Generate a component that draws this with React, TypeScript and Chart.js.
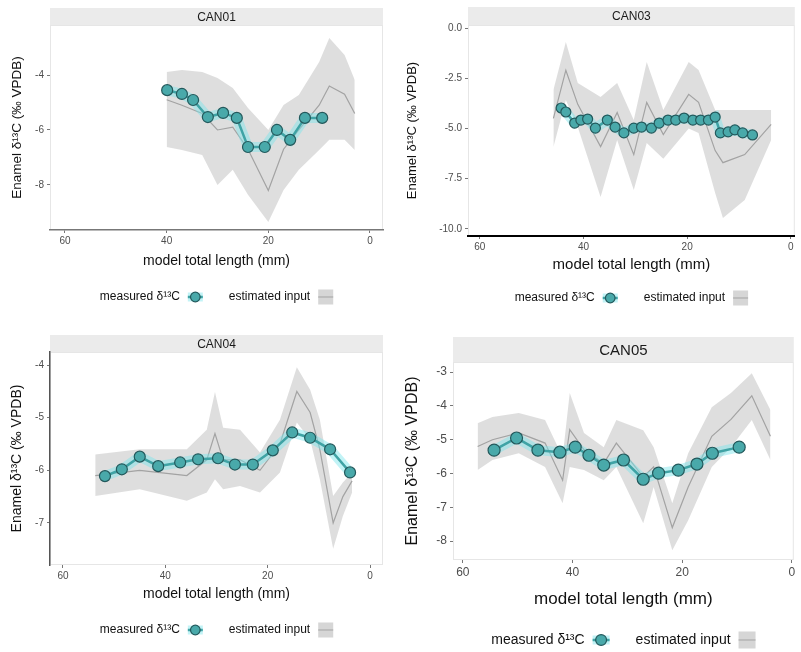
import React, { useEffect, useRef } from 'react';
import { Chart, registerables } from 'chart.js';

Chart.register(...registerables);

const FONT = '"Liberation Sans", Arial, Helvetica, sans-serif';
const Y_TITLE = 'Enamel δ¹³C (‰ VPDB)';
const X_TITLE = 'model total length (mm)';
const LEGEND_MEASURED = 'measured δ¹³C';
const LEGEND_ESTIMATED = 'estimated input';

const xTicks = [60, 40, 20, 0];

// ---- CAN01 ----
const can01Name = 'CAN01';
const can01YTicks = [-4, -6, -8];
const can01MeasuredX = [39.9, 37.0, 34.8, 31.9, 28.9, 26.2, 24.0, 20.7, 18.3, 15.7, 12.8, 9.4];
const can01MeasuredY = [-4.55, -4.69, -4.91, -5.53, -5.38, -5.56, -6.62, -6.62, -6.0, -6.36, -5.56, -5.56];
const can01EstX = [40, 37, 33, 30, 27, 24, 20, 17, 14, 10, 8, 5, 3];
const can01EstUpper = [-3.89, -3.82, -3.89, -4.11, -4.47, -5.2, -6.0, -5.09, -4.73, -3.53, -2.65, -3.27, -4.18];
const can01EstLower = [-6.62, -6.73, -6.91, -8.0, -7.45, -8.36, -9.35, -8.18, -7.45, -6.73, -6.36, -6.36, -6.73];
const can01EstMid = [-4.9, -5.1, -5.4, -6.0, -5.9, -6.7, -8.2, -6.7, -6.0, -5.1, -4.4, -4.7, -5.4];

// ---- CAN03 ----
const can03Name = 'CAN03';
const can03YTicks = [0, -2.5, -5, -7.5, -10];
const can03MeasuredX = [44.3, 43.4, 41.7, 40.5, 39.2, 37.7, 35.4, 33.9, 32.2, 30.3, 28.8, 26.9, 25.4, 23.7, 22.2, 20.6, 18.9, 17.4, 15.9, 14.6, 13.6, 12.1, 10.8, 9.3, 7.4];
const can03MeasuredY = [-3.98, -4.18, -4.73, -4.58, -4.53, -4.98, -4.58, -4.93, -5.22, -4.98, -4.93, -4.98, -4.73, -4.58, -4.58, -4.48, -4.58, -4.58, -4.58, -4.43, -5.22, -5.17, -5.07, -5.22, -5.32];
const can03EstX = [45.8, 43.4, 41.1, 36.7, 33.5, 30.3, 27.8, 24.6, 19.7, 17.8, 14.6, 13.1, 8.9, 3.8];
const can03EstUpper = [-3.08, -0.7, -2.74, -3.43, -2.74, -4.58, -1.69, -4.08, -1.69, -2.09, -4.08, -4.08, -4.08, -4.08];
const can03EstLower = [-5.92, -3.58, -4.93, -8.41, -5.57, -8.06, -5.72, -6.5, -5.0, -5.22, -8.21, -9.45, -8.56, -5.57];
const can03EstMid = [-4.5, -2.1, -3.8, -5.9, -4.2, -6.3, -3.7, -5.3, -3.3, -3.7, -6.1, -6.7, -6.3, -4.8];

// ---- CAN04 ----
const can04Name = 'CAN04';
const can04YTicks = [-4, -5, -6, -7];
const can04MeasuredX = [51.8, 48.5, 45.0, 41.4, 37.1, 33.6, 29.7, 26.4, 22.9, 19.0, 15.2, 11.7, 7.8, 3.9];
const can04MeasuredY = [-6.11, -5.98, -5.74, -5.92, -5.85, -5.79, -5.77, -5.89, -5.89, -5.62, -5.28, -5.38, -5.6, -6.04];
const can04EstX = [53.7, 45.0, 35.8, 31.9, 30.3, 28.7, 25.4, 21.5, 17.6, 14.3, 11.7, 9.8, 7.2, 5.3, 3.5];
const can04EstUpper = [-5.7, -5.6, -5.6, -5.23, -4.51, -5.19, -5.23, -5.66, -5.04, -4.04, -4.47, -5.04, -6.49, -6.23, -6.04];
const can04EstLower = [-6.49, -6.36, -6.58, -6.42, -6.17, -6.36, -6.3, -6.42, -6.04, -5.09, -5.42, -6.17, -7.49, -6.87, -6.42];
const can04EstMid = [-6.1, -6.0, -6.1, -5.8, -5.3, -5.8, -5.8, -6.0, -5.5, -4.5, -4.9, -5.6, -7.0, -6.5, -6.2];

// ---- CAN05 ----
const can05Name = 'CAN05';
const can05YTicks = [-3, -4, -5, -6, -7, -8];
const can05MeasuredX = [54.3, 50.2, 46.3, 42.3, 39.5, 37.0, 34.3, 30.7, 27.1, 24.3, 20.7, 17.3, 14.5, 9.6];
const can05MeasuredY = [-5.31, -4.95, -5.31, -5.37, -5.22, -5.46, -5.75, -5.6, -6.17, -5.99, -5.9, -5.72, -5.4, -5.22];
const can05EstX = [57.3, 54.6, 49.8, 45.0, 41.8, 40.5, 37.9, 34.3, 32.0, 27.1, 25.2, 21.8, 18.9, 14.6, 11.1, 7.3, 3.9];
const can05EstUpper = [-4.51, -4.33, -4.21, -4.42, -5.51, -3.62, -4.8, -5.22, -4.42, -4.72, -5.22, -6.88, -5.4, -4.04, -3.62, -3.03, -4.12];
const can05EstLower = [-5.9, -5.6, -5.4, -5.81, -6.88, -5.81, -5.9, -6.2, -5.81, -7.47, -6.4, -8.27, -7.38, -5.81, -5.22, -4.42, -5.6];
const can05EstMid = [-5.2, -5.0, -4.8, -5.1, -6.2, -4.7, -5.3, -5.7, -5.1, -6.1, -5.8, -7.6, -6.4, -4.9, -4.4, -3.7, -4.9];

type Border = { display: boolean; color: string; width: number };
type Layout = {
  left: number; top: number; width: number; height: number;
  areaLeft: number; areaRight: number; areaTop: number; areaBottom: number;
  stripTop: number; xScaleH: number;
  xMin: number; xMax: number; yMin: number; yMax: number; yDecimals: number;
  stripSize: number; tickSize: number; xTitleSize: number; yTitleSize: number; yTitlePad: number;
  legendSize: number; legendY: number; keySize: number; pointR: number;
  xBorder: Border; yBorder: Border;
};

type PanelData = {
  name: string; yTicks: number[];
  mx: number[]; my: number[];
  ex: number[]; eu: number[]; el: number[]; em: number[];
};

const panels: { data: PanelData; layout: Layout }[] = [
  {
    data: { name: can01Name, yTicks: can01YTicks, mx: can01MeasuredX, my: can01MeasuredY, ex: can01EstX, eu: can01EstUpper, el: can01EstLower, em: can01EstMid },
    layout: {
      left: 0, top: 0, width: 400, height: 320,
      areaLeft: 50, areaRight: 383, areaTop: 25, areaBottom: 230, stripTop: 8, xScaleH: 40,
      xMin: -2.56, xMax: 62.95, yMin: -9.64, yMax: -2.18, yDecimals: 0,
      stripSize: 12, tickSize: 10, xTitleSize: 14, yTitleSize: 13.5, yTitlePad: 9,
      legendSize: 12, legendY: 297, keySize: 15, pointR: 5.5,
      xBorder: { display: true, color: '#777', width: 1.5 }, yBorder: { display: false, color: '#000', width: 1 },
    },
  },
  {
    data: { name: can03Name, yTicks: can03YTicks, mx: can03MeasuredX, my: can03MeasuredY, ex: can03EstX, eu: can03EstUpper, el: can03EstLower, em: can03EstMid },
    layout: {
      left: 400, top: 0, width: 401, height: 320,
      areaLeft: 68, areaRight: 401, areaTop: 25, areaBottom: 236, stripTop: 7, xScaleH: 38,
      xMin: -0.76, xMax: 62.27, yMin: -10.35, yMax: 0.15, yDecimals: 1,
      stripSize: 12, tickSize: 10, xTitleSize: 15, yTitleSize: 13, yTitlePad: 5,
      legendSize: 12, legendY: 298, keySize: 15, pointR: 5,
      xBorder: { display: true, color: '#000', width: 2 }, yBorder: { display: false, color: '#000', width: 1 },
    },
  },
  {
    data: { name: can04Name, yTicks: can04YTicks, mx: can04MeasuredX, my: can04MeasuredY, ex: can04EstX, eu: can04EstUpper, el: can04EstLower, em: can04EstMid },
    layout: {
      left: 0, top: 325, width: 400, height: 327,
      areaLeft: 50, areaRight: 383, areaTop: 27, areaBottom: 240, stripTop: 10, xScaleH: 38,
      xMin: -2.54, xMax: 62.54, yMin: -7.8, yMax: -3.75, yDecimals: 0,
      stripSize: 12, tickSize: 10, xTitleSize: 14, yTitleSize: 14, yTitlePad: 9,
      legendSize: 12, legendY: 305, keySize: 15, pointR: 5.5,
      xBorder: { display: false, color: '#000', width: 1 }, yBorder: { display: true, color: '#555', width: 1.5 },
    },
  },
  {
    data: { name: can05Name, yTicks: can05YTicks, mx: can05MeasuredX, my: can05MeasuredY, ex: can05EstX, eu: can05EstUpper, el: can05EstLower, em: can05EstMid },
    layout: {
      left: 400, top: 325, width: 401, height: 327,
      areaLeft: 53, areaRight: 401, areaTop: 37, areaBottom: 235, stripTop: 12, xScaleH: 50,
      xMin: -0.36, xMax: 61.79, yMin: -8.56, yMax: -2.7, yDecimals: 0,
      stripSize: 15, tickSize: 12, xTitleSize: 17, yTitleSize: 16, yTitlePad: 3,
      legendSize: 14, legendY: 315, keySize: 17, pointR: 6,
      xBorder: { display: false, color: '#000', width: 1 }, yBorder: { display: false, color: '#000', width: 1 },
    },
  },
];

const TEAL = '#3fa3a5';
const TEAL_FILL = '#49a9aa';
const TEAL_EDGE = '#24595c';
const HALO = 'rgba(120,228,236,0.45)';
const BAND = 'rgba(190,190,190,0.5)';
const MID = '#a3a3a3';

function zip(xs: number[], ys: number[]) {
  return xs.map((x, i) => ({ x, y: ys[i] }));
}

function Panel({ data, layout }: { data: PanelData; layout: Layout }) {
  const ref = useRef<HTMLCanvasElement | null>(null);

  useEffect(() => {
    const canvas = ref.current;
    if (!canvas) return;
    const L = layout;

    const stripPlugin = {
      id: 'strip',
      beforeDraw(chart: any) {
        const { ctx, chartArea } = chart;
        ctx.save();
        ctx.fillStyle = '#ebebeb';
        ctx.fillRect(chartArea.left, L.stripTop, chartArea.right - chartArea.left, chartArea.top - L.stripTop);
        ctx.fillStyle = '#1a1a1a';
        ctx.font = `${L.stripSize}px ${FONT}`;
        ctx.textAlign = 'center';
        ctx.textBaseline = 'middle';
        ctx.fillText(data.name, (chartArea.left + chartArea.right) / 2, (L.stripTop + chartArea.top) / 2 + 1);
        ctx.strokeStyle = '#e6e6e6';
        ctx.lineWidth = 1;
        ctx.strokeRect(chartArea.left + 0.5, chartArea.top + 0.5, chartArea.right - chartArea.left - 1, chartArea.bottom - chartArea.top - 1);
        ctx.restore();
      },
    };

    const legendPlugin = {
      id: 'facetLegend',
      afterDraw(chart: any) {
        const { ctx, chartArea } = chart;
        ctx.save();
        ctx.font = `${L.legendSize}px ${FONT}`;
        ctx.textBaseline = 'middle';
        ctx.textAlign = 'left';
        const w1 = ctx.measureText(LEGEND_MEASURED).width;
        const w2 = ctx.measureText(LEGEND_ESTIMATED).width;
        const k = L.keySize;
        const g = 8;
        const mid = 26;
        const total = w1 + g + k + mid + w2 + g + k;
        let x = (chartArea.left + chartArea.right) / 2 - total / 2;
        const y = L.legendY;
        ctx.fillStyle = '#111';
        ctx.fillText(LEGEND_MEASURED, x, y);
        x += w1 + g;
        ctx.strokeStyle = HALO;
        ctx.lineWidth = 9;
        ctx.beginPath(); ctx.moveTo(x, y); ctx.lineTo(x + k, y); ctx.stroke();
        ctx.strokeStyle = TEAL;
        ctx.lineWidth = 2.5;
        ctx.beginPath(); ctx.moveTo(x, y); ctx.lineTo(x + k, y); ctx.stroke();
        ctx.fillStyle = TEAL_FILL;
        ctx.strokeStyle = TEAL_EDGE;
        ctx.lineWidth = 1.2;
        ctx.beginPath(); ctx.arc(x + k / 2, y, k * 0.32, 0, Math.PI * 2); ctx.fill(); ctx.stroke();
        x += k + mid;
        ctx.fillStyle = '#111';
        ctx.fillText(LEGEND_ESTIMATED, x, y);
        x += w2 + g;
        ctx.fillStyle = 'rgba(200,200,200,0.75)';
        ctx.fillRect(x, y - k / 2, k, k);
        ctx.strokeStyle = MID;
        ctx.lineWidth = 1;
        ctx.beginPath(); ctx.moveTo(x, y); ctx.lineTo(x + k, y); ctx.stroke();
        ctx.restore();
      },
    };

    const tickFont = { family: FONT, size: L.tickSize };
    const chart = new Chart(canvas, {
      type: 'line',
      data: {
        datasets: [
          {
            label: 'measured',
            data: zip(data.mx, data.my),
            borderColor: TEAL,
            borderWidth: 2.5,
            pointRadius: L.pointR,
            pointBackgroundColor: TEAL_FILL,
            pointBorderColor: TEAL_EDGE,
            pointBorderWidth: 1.2,
            fill: false,
            tension: 0,
            order: 0,
          },
          {
            label: 'halo',
            data: zip(data.mx, data.my),
            borderColor: HALO,
            borderWidth: 10,
            pointRadius: 0,
            fill: false,
            tension: 0,
            order: 1,
          },
          {
            label: 'estimated mid',
            data: zip(data.ex, data.em),
            borderColor: MID,
            borderWidth: 1.2,
            pointRadius: 0,
            fill: false,
            tension: 0,
            order: 2,
          },
          {
            label: 'estimated upper',
            data: zip(data.ex, data.eu),
            borderColor: 'rgba(0,0,0,0)',
            borderWidth: 0,
            pointRadius: 0,
            backgroundColor: BAND,
            fill: '+1',
            tension: 0,
            order: 4,
          },
          {
            label: 'estimated lower',
            data: zip(data.ex, data.el),
            borderColor: 'rgba(0,0,0,0)',
            borderWidth: 0,
            pointRadius: 0,
            fill: false,
            tension: 0,
            order: 3,
          },
        ] as any,
      },
      options: {
        responsive: false,
        maintainAspectRatio: false,
        animation: false,
        events: [],
        layout: {
          padding: {
            left: 0,
            right: L.width - L.areaRight,
            top: L.areaTop,
            bottom: L.height - L.areaBottom - L.xScaleH,
          },
        },
        plugins: {
          legend: { display: false },
          tooltip: { enabled: false },
          title: { display: false },
          filler: { propagate: false },
        },
        scales: {
          x: {
            type: 'linear',
            reverse: true,
            min: L.xMin,
            max: L.xMax,
            afterBuildTicks: (s: any) => { s.ticks = xTicks.map((v) => ({ value: v })); },
            afterFit: (s: any) => { s.height = L.xScaleH; s.paddingLeft = 0; s.paddingRight = 0; },
            ticks: {
              font: tickFont, color: '#4d4d4d', padding: 2, maxRotation: 0, autoSkip: false,
              callback: (v: any) => String(v),
            },
            grid: { display: true, drawOnChartArea: false, color: 'rgba(0,0,0,0)', tickColor: '#777', tickLength: 3 },
            border: L.xBorder,
            title: { display: true, text: X_TITLE, color: '#111', font: { family: FONT, size: L.xTitleSize }, padding: { top: 0, bottom: 0 } },
          },
          y: {
            type: 'linear',
            min: L.yMin,
            max: L.yMax,
            afterBuildTicks: (s: any) => { s.ticks = data.yTicks.map((v) => ({ value: v })); },
            afterFit: (s: any) => { s.width = L.areaLeft; s.paddingTop = 0; s.paddingBottom = 0; },
            ticks: {
              font: tickFont, color: '#4d4d4d', padding: 3, autoSkip: false,
              callback: (v: any) => Number(v).toFixed(L.yDecimals),
            },
            grid: { display: true, drawOnChartArea: false, color: 'rgba(0,0,0,0)', tickColor: '#777', tickLength: 3 },
            border: L.yBorder,
            title: { display: true, text: Y_TITLE, color: '#111', font: { family: FONT, size: L.yTitleSize }, padding: { top: L.yTitlePad, bottom: 0 } },
          },
        },
      } as any,
      plugins: [stripPlugin, legendPlugin],
    });
    return () => chart.destroy();
  }, [data, layout]);

  return (
    <div style={{ position: 'absolute', left: layout.left, top: layout.top, width: layout.width, height: layout.height }}>
      <canvas ref={ref} width={layout.width} height={layout.height} style={{ display: 'block', width: layout.width, height: layout.height }} />
    </div>
  );
}

export default function App() {
  return (
    <div style={{ position: 'absolute', left: 0, top: 0, width: 801, height: 652, background: '#fff', overflow: 'hidden' }}>
      {panels.map((p) => (
        <Panel key={p.data.name} data={p.data} layout={p.layout} />
      ))}
    </div>
  );
}
